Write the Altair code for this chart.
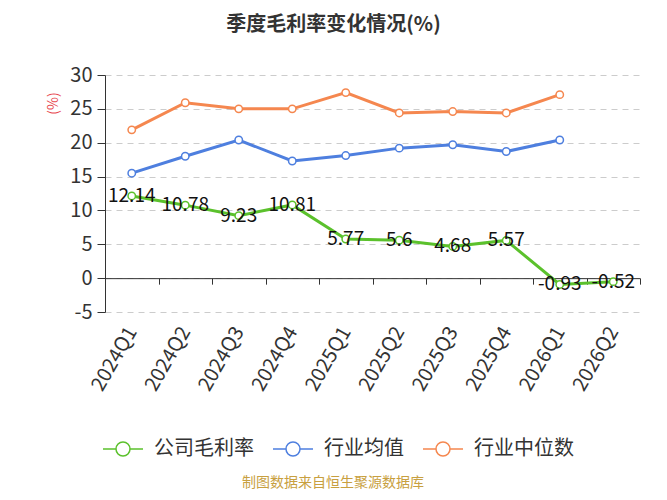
import altair as alt
import pandas as pd

quarters = ["2024Q1", "2024Q2", "2024Q3", "2024Q4", "2025Q1",
            "2025Q2", "2025Q3", "2025Q4", "2026Q1", "2026Q2"]
company = [12.14, 10.78, 9.23, 10.81, 5.77, 5.6, 4.68, 5.57, -0.93, -0.52]
industry_avg = [15.5, 18.0, 20.4, 17.3, 18.1, 19.2, 19.7, 18.7, 20.4, None]
industry_median = [21.9, 25.9, 25.0, 25.0, 27.4, 24.4, 24.6, 24.4, 27.1, None]

series_names = ["公司毛利率", "行业均值", "行业中位数"]
palette = ["#5bc12c", "#4e7fdf", "#f5874f"]

rows = []
for name, values in zip(series_names, [company, industry_avg, industry_median]):
    for q, v in zip(quarters, values):
        if v is None:
            continue
        rows.append({"quarter": q, "series": name, "value": v, "label": str(v)})
df = pd.DataFrame(rows)
labels_df = df[df["series"] == "公司毛利率"]

FONT = "Noto Sans CJK SC"
W, H = 535, 237

x_enc = alt.X(
    "quarter:N",
    sort=quarters,
    title=None,
    scale=alt.Scale(type="band", domain=quarters, paddingInner=0, paddingOuter=0),
    axis=alt.Axis(
        offset=-H * 5 / 35,
        tickBand="extent",
        tickSize=6,
        tickColor="#333333",
        domainColor="#333333",
        labelAngle=300,
        labelAlign="right",
        labelBaseline="middle",
        labelPadding=44,
        labelFontSize=20,
        labelColor="#333333",
        grid=False,
    ),
)
y_enc = alt.Y(
    "value:Q",
    title="(%)",
    scale=alt.Scale(domain=[-5, 30], nice=False, zero=False),
    axis=alt.Axis(
        values=[-5, 0, 5, 10, 15, 20, 25, 30],
        labelExpr="toString(datum.value)",
        tickSize=8,
        tickColor="#333333",
        domainColor="#333333",
        labelPadding=5,
        labelFontSize=20,
        labelColor="#333333",
        titleColor="#e8484f",
        titleFontSize=14,
        titleFontWeight="normal",
        titleX=-52,
        titleY=28,
        titleAngle=270,
        titleAlign="center",
        titleBaseline="middle",
        gridColor="#cccccc",
        gridDash=[6, 5],
    ),
)
color_enc = alt.Color(
    "series:N",
    sort=series_names,
    scale=alt.Scale(domain=series_names, range=palette),
    legend=alt.Legend(
        title=None,
        orient="none",
        direction="horizontal",
        legendX=-3,
        legendY=353,
        symbolType="M-1,0L-0.35,0M0.35,0L1,0M0.35,0A0.35,0.35,0,1,1,-0.35,0A0.35,0.35,0,1,1,0.35,0",
        symbolSize=1600,
        symbolStrokeWidth=1.5,
        symbolFillColor="white",
        labelFontSize=20,
        labelColor="#333333",
        labelOffset=10,
        columnPadding=16,
    ),
)

lines = alt.Chart(df).mark_line(strokeWidth=3).encode(x=x_enc, y=y_enc, color=color_enc)
points = alt.Chart(df).mark_point(
    filled=False, fill="white", size=55, strokeWidth=1.5, opacity=1
).encode(x=x_enc, y=y_enc, color=color_enc)
labels = alt.Chart(labels_df).mark_text(
    fontSize=19, color="#111111", align="center", baseline="middle"
).encode(x=x_enc, y=y_enc, text="label:N")
footer = alt.Chart(pd.DataFrame({"t": ["制图数据来自恒生聚源数据库"]})).mark_text(
    fontSize=14, color="#c8a040", align="center", baseline="middle"
).encode(x=alt.value(228), y=alt.value(408), text="t:N")

chart = (
    alt.layer(lines, points, labels, footer)
    .properties(
        width=W,
        height=H,
        autosize=alt.AutoSizeParams(type="none"),
        padding={"left": 97, "top": 67, "right": 19, "bottom": 180},
        title=alt.TitleParams(
            "季度毛利率变化情况(%)",
            fontSize=20,
            fontWeight="bold",
            color="#333333",
            anchor="middle",
            offset=30,
            dx=-39,
        ),
    )
    .configure(font=FONT)
    .configure_view(stroke=None)
)

chart.save("out.html", embed_options={"renderer": "svg", "actions": False})
